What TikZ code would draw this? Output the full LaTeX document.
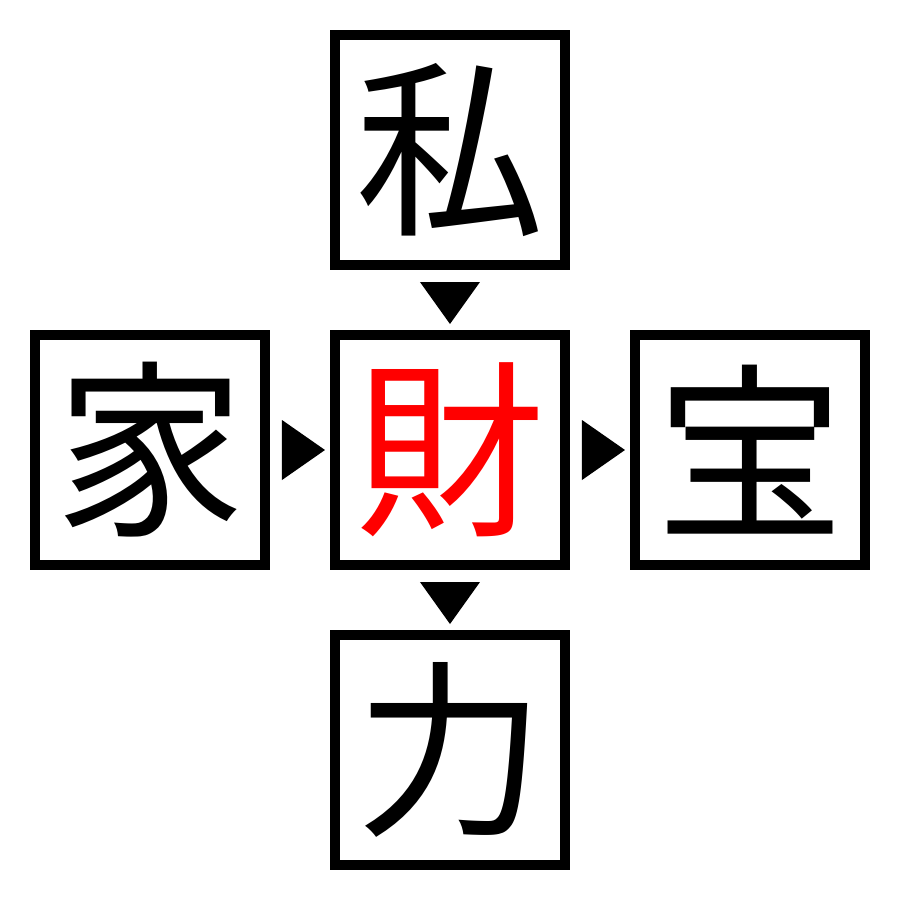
\documentclass[tikz,border=0pt]{standalone}
\usepackage{fontspec}
\newfontfamily\cjk{Noto Sans CJK JP}
\usetikzlibrary{positioning}

\begin{document}
\begin{tikzpicture}[
    inner sep=0pt, %text sits in the middle of the box
    kbox/.style={draw=black,line width=0.1cm,minimum size=2.3cm,
        font=\cjk\fontsize{54}{54}\selectfont},
    tri/.style={fill=black},
    ]
    \useasboundingbox (-4.5,-4.5) rectangle (4.5,4.5);

    %boxes
    \node[kbox,text=red] (mid) at (0,0) {財};
    \node[kbox] (top) at (0,3) {私};
    \node[kbox] (left) at (-3,0) {家};
    \node[kbox] (right) at (3,0) {宝};
    \node[kbox] (bot) at (0,-3) {力};

    %arrows
    \fill[tri] (-0.3,1.68) -- (0.3,1.68) -- (0,1.26) -- cycle;
    \fill[tri] (-1.68,0.3) -- (-1.68,-0.3) -- (-1.25,0) -- cycle;
    \fill[tri] (1.32,0.3) -- (1.32,-0.3) -- (1.75,0) -- cycle;
    \fill[tri] (-0.3,-1.32) -- (0.3,-1.32) -- (0,-1.74) -- cycle;

\end{tikzpicture}
\end{document}
